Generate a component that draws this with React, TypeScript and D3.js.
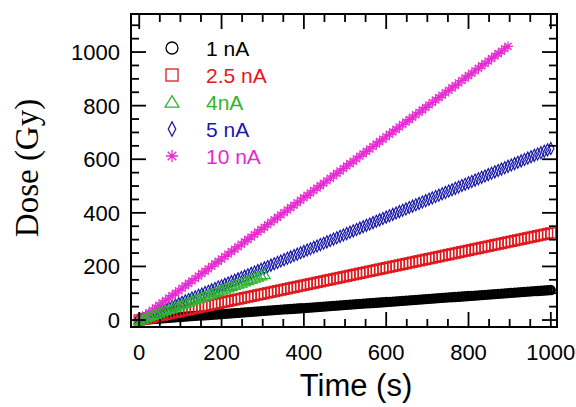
import * as d3 from "d3";
import React from "react";

// time axis (s), one reading every 8 s
const time = [
  0, 8, 16, 24, 32, 40, 48, 56, 64, 72,
  80, 88, 96, 104, 112, 120, 128, 136, 144, 152,
  160, 168, 176, 184, 192, 200, 208, 216, 224, 232,
  240, 248, 256, 264, 272, 280, 288, 296, 304, 312,
  320, 328, 336, 344, 352, 360, 368, 376, 384, 392,
  400, 408, 416, 424, 432, 440, 448, 456, 464, 472,
  480, 488, 496, 504, 512, 520, 528, 536, 544, 552,
  560, 568, 576, 584, 592, 600, 608, 616, 624, 632,
  640, 648, 656, 664, 672, 680, 688, 696, 704, 712,
  720, 728, 736, 744, 752, 760, 768, 776, 784, 792,
  800, 808, 816, 824, 832, 840, 848, 856, 864, 872,
  880, 888, 896, 904, 912, 920, 928, 936, 944, 952,
  960, 968, 976, 984, 992, 1000,
];

const dose1nA = [
  0, 0.9, 1.8, 2.7, 3.6, 4.5, 5.4, 6.3, 7.2, 8.1,
  9.0, 9.9, 10.8, 11.6, 12.5, 13.4, 14.3, 15.2, 16.1, 17.0,
  17.9, 18.8, 19.7, 20.6, 21.5, 22.4, 23.3, 24.2, 25.1, 26.0,
  26.9, 27.8, 28.7, 29.6, 30.5, 31.4, 32.3, 33.2, 34.0, 34.9,
  35.8, 36.7, 37.6, 38.5, 39.4, 40.3, 41.2, 42.1, 43.0, 43.9,
  44.8, 45.7, 46.6, 47.5, 48.4, 49.3, 50.2, 51.1, 52.0, 52.9,
  53.8, 54.7, 55.6, 56.4, 57.3, 58.2, 59.1, 60.0, 60.9, 61.8,
  62.7, 63.6, 64.5, 65.4, 66.3, 67.2, 68.1, 69.0, 69.9, 70.8,
  71.7, 72.6, 73.5, 74.4, 75.3, 76.2, 77.1, 78.0, 78.8, 79.7,
  80.6, 81.5, 82.4, 83.3, 84.2, 85.1, 86.0, 86.9, 87.8, 88.7,
  89.6, 90.5, 91.4, 92.3, 93.2, 94.1, 95.0, 95.9, 96.8, 97.7,
  98.6, 99.5, 100.4, 101.2, 102.1, 103.0, 103.9, 104.8, 105.7, 106.6,
  107.5, 108.4, 109.3, 110.2, 111.1, 112.0,
];

const dose2p5nA = [
  0, 2.6, 5.2, 7.8, 10.4, 13.0, 15.6, 18.2, 20.8, 23.4,
  26.0, 28.6, 31.2, 33.8, 36.4, 39.0, 41.6, 44.2, 46.8, 49.4,
  52.0, 54.6, 57.2, 59.8, 62.4, 65.0, 67.6, 70.2, 72.8, 75.4,
  78.0, 80.6, 83.2, 85.8, 88.4, 91.0, 93.6, 96.2, 98.8, 101.4,
  104.0, 106.6, 109.2, 111.8, 114.4, 117.0, 119.6, 122.2, 124.8, 127.4,
  130.0, 132.6, 135.2, 137.8, 140.4, 143.0, 145.6, 148.2, 150.8, 153.4,
  156.0, 158.6, 161.2, 163.8, 166.4, 169.0, 171.6, 174.2, 176.8, 179.4,
  182.0, 184.6, 187.2, 189.8, 192.4, 195.0, 197.6, 200.2, 202.8, 205.4,
  208.0, 210.6, 213.2, 215.8, 218.4, 221.0, 223.6, 226.2, 228.8, 231.4,
  234.0, 236.6, 239.2, 241.8, 244.4, 247.0, 249.6, 252.2, 254.8, 257.4,
  260.0, 262.6, 265.2, 267.8, 270.4, 273.0, 275.6, 278.2, 280.8, 283.4,
  286.0, 288.6, 291.2, 293.8, 296.4, 299.0, 301.6, 304.2, 306.8, 309.4,
  312.0, 314.6, 317.2, 319.8, 322.4, 325.0,
];

const dose4nA = [
  0, 4.5, 9.0, 13.4, 17.9, 22.4, 26.9, 31.4, 35.8, 40.3,
  44.8, 49.3, 53.8, 58.2, 62.7, 67.2, 71.7, 76.2, 80.6, 85.1,
  89.6, 94.1, 98.6, 103.0, 107.5, 112.0, 116.5, 121.0, 125.4, 129.9,
  134.4, 138.9, 143.4, 147.8, 152.3, 156.8, 161.3, 165.8, 170.2,
];

const dose5nA = [
  0, 5.1, 10.2, 15.4, 20.5, 25.6, 30.7, 35.8, 41.0, 46.1,
  51.2, 56.3, 61.4, 66.6, 71.7, 76.8, 81.9, 87.0, 92.2, 97.3,
  102.4, 107.5, 112.6, 117.8, 122.9, 128.0, 133.1, 138.2, 143.4, 148.5,
  153.6, 158.7, 163.8, 169.0, 174.1, 179.2, 184.3, 189.4, 194.6, 199.7,
  204.8, 209.9, 215.0, 220.2, 225.3, 230.4, 235.5, 240.6, 245.8, 250.9,
  256.0, 261.1, 266.2, 271.4, 276.5, 281.6, 286.7, 291.8, 297.0, 302.1,
  307.2, 312.3, 317.4, 322.6, 327.7, 332.8, 337.9, 343.0, 348.2, 353.3,
  358.4, 363.5, 368.6, 373.8, 378.9, 384.0, 389.1, 394.2, 399.4, 404.5,
  409.6, 414.7, 419.8, 425.0, 430.1, 435.2, 440.3, 445.4, 450.6, 455.7,
  460.8, 465.9, 471.0, 476.2, 481.3, 486.4, 491.5, 496.6, 501.8, 506.9,
  512.0, 517.1, 522.2, 527.4, 532.5, 537.6, 542.7, 547.8, 553.0, 558.1,
  563.2, 568.3, 573.4, 578.6, 583.7, 588.8, 593.9, 599.0, 604.2, 609.3,
  614.4, 619.5, 624.6, 629.8, 634.9, 640.0,
];

const dose10nA = [
  0, 9.1, 18.2, 27.4, 36.5, 45.6, 54.7, 63.8, 73.0, 82.1,
  91.2, 100.3, 109.4, 118.6, 127.7, 136.8, 145.9, 155.0, 164.2, 173.3,
  182.4, 191.5, 200.6, 209.8, 218.9, 228.0, 237.1, 246.2, 255.4, 264.5,
  273.6, 282.7, 291.8, 301.0, 310.1, 319.2, 328.3, 337.4, 346.6, 355.7,
  364.8, 373.9, 383.0, 392.2, 401.3, 410.4, 419.5, 428.6, 437.8, 446.9,
  456.0, 465.1, 474.2, 483.4, 492.5, 501.6, 510.7, 519.8, 529.0, 538.1,
  547.2, 556.3, 565.4, 574.6, 583.7, 592.8, 601.9, 611.0, 620.2, 629.3,
  638.4, 647.5, 656.6, 665.8, 674.9, 684.0, 693.1, 702.2, 711.4, 720.5,
  729.6, 738.7, 747.8, 757.0, 766.1, 775.2, 784.3, 793.4, 802.6, 811.7,
  820.8, 829.9, 839.0, 848.2, 857.3, 866.4, 875.5, 884.6, 893.8, 902.9,
  912.0, 921.1, 930.2, 939.4, 948.5, 957.6, 966.7, 975.8, 985.0, 994.1,
  1003.2, 1012.3, 1021.4,
];

const seriesLabels = ["1 nA", "2.5 nA", "4nA", "5 nA", "10 nA"];
const seriesColors = ["#000000", "#e0191e", "#2fb52f", "#1a1aaa", "#e62ad2"];
const seriesMarkers = ["circle", "square", "triangle", "diamond", "asterisk"];
const seriesDoses = [dose1nA, dose2p5nA, dose4nA, dose5nA, dose10nA];
const drawOrder = [0, 1, 3, 4, 2];

const xTickLabels = [0, 200, 400, 600, 800, 1000];
const yTickLabels = [0, 200, 400, 600, 800, 1000];

const width = 576;
const height = 407;
const left = 131;
const right = 557;
const top = 14;
const bottom = 327;

const x = d3.scaleLinear().domain([-20, 1015]).range([left, right]);
const y = d3.scaleLinear().domain([-26, 1142]).range([bottom, top]);

function Marker({ kind, cx, cy, s, color, sw }) {
  const h = s / 2;
  if (kind === "circle")
    return <circle cx={cx} cy={cy} r={h} fill="none" stroke={color} strokeWidth={sw} />;
  if (kind === "square")
    return <rect x={cx - h} y={cy - h} width={s} height={s} fill="none" stroke={color} strokeWidth={sw} />;
  if (kind === "triangle")
    return (
      <path
        d={`M${cx},${cy - h * 1.05}L${cx + h * 1.15},${cy + h * 0.85}L${cx - h * 1.15},${cy + h * 0.85}Z`}
        fill="none"
        stroke={color}
        strokeWidth={sw}
      />
    );
  if (kind === "diamond")
    return (
      <path
        d={`M${cx},${cy - h * 1.2}L${cx + h * 0.62},${cy}L${cx},${cy + h * 1.2}L${cx - h * 0.62},${cy}Z`}
        fill="none"
        stroke={color}
        strokeWidth={sw}
      />
    );
  const d = h * 0.72;
  return (
    <path
      d={`M${cx},${cy - h}V${cy + h}M${cx - h},${cy}H${cx + h}M${cx - d},${cy - d}L${cx + d},${cy + d}M${cx - d},${cy + d}L${cx + d},${cy - d}`}
      fill="none"
      stroke={color}
      strokeWidth={sw}
    />
  );
}

export default function App() {
  const xMinor = d3.range(0, 1001, 50);
  const yMinor = d3.range(0, 1101, 50);
  const sans = "'Liberation Sans', Arial, Helvetica, sans-serif";

  return (
    <svg
      width={width}
      height={height}
      style={{ position: "absolute", left: 0, top: 0, background: "#fff" }}
    >
      {/* data */}
      {drawOrder.map((si) => (
        <g key={si}>
          {seriesDoses[si].map((v, i) => (
            <Marker
              key={i}
              kind={seriesMarkers[si]}
              cx={x(time[i])}
              cy={y(v)}
              s={si === 0 ? 7 : 10}
              color={seriesColors[si]}
              sw={si === 0 ? 3.3 : si === 1 ? 1.4 : 1.2}
            />
          ))}
        </g>
      ))}

      {/* frame */}
      <rect
        x={left}
        y={top}
        width={right - left}
        height={bottom - top}
        fill="none"
        stroke="#000"
        strokeWidth={2}
      />

      {/* ticks on all four sides, pointing inward */}
      {xMinor.map((t) => {
        const len = t % 200 === 0 ? 15 : 8;
        return (
          <g key={t} stroke="#000" strokeWidth={1.8}>
            <line x1={x(t)} x2={x(t)} y1={bottom} y2={bottom - len} />
            <line x1={x(t)} x2={x(t)} y1={top} y2={top + len} />
          </g>
        );
      })}
      {yMinor.map((t) => {
        const len = t % 200 === 0 ? 15 : 8;
        return (
          <g key={t} stroke="#000" strokeWidth={1.8}>
            <line x1={left} x2={left + len} y1={y(t)} y2={y(t)} />
            <line x1={right} x2={right - len} y1={y(t)} y2={y(t)} />
          </g>
        );
      })}

      {/* tick labels */}
      {xTickLabels.map((t) => (
        <text key={t} x={x(t)} y={360} textAnchor="middle" fontFamily={sans} fontSize={22} fill="#000">
          {t}
        </text>
      ))}
      {yTickLabels.map((t) => (
        <text key={t} x={left - 11} y={y(t) + 8} textAnchor="end" fontFamily={sans} fontSize={22} fill="#000">
          {t}
        </text>
      ))}

      {/* axis titles */}
      <text x={356} y={396} textAnchor="middle" fontFamily={sans} fontSize={31} fill="#000">
        Time (s)
      </text>
      <text
        transform={`translate(38,168) rotate(-90)`}
        textAnchor="middle"
        fontFamily="'Liberation Serif', 'Times New Roman', serif"
        fontSize={33}
        fill="#000"
      >
        Dose (Gy)
      </text>

      {/* legend */}
      {seriesLabels.map((lab, i) => (
        <g key={lab}>
          <Marker kind={seriesMarkers[i]} cx={172} cy={48 + i * 27} s={12} color={seriesColors[i]} sw={1.3} />
          <text x={206} y={48 + i * 27 + 7.5} fontFamily={sans} fontSize={21} fill={seriesColors[i]}>
            {lab}
          </text>
        </g>
      ))}
    </svg>
  );
}
